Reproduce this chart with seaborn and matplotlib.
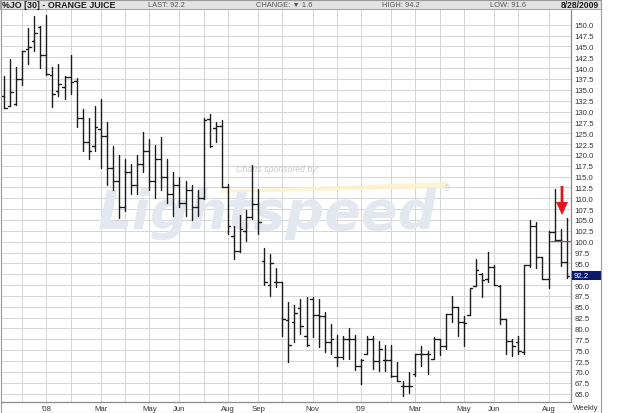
import numpy as np
import pandas as pd
import matplotlib
matplotlib.use("Agg")
import matplotlib.pyplot as plt
import seaborn as sns
from matplotlib.patches import Rectangle, Polygon

# ---------------- data (weekly OHLC, %JO orange juice) ----------------
opens = [133.6, 131.3, 131.7, 137.5, 144.5, 146.2, 149.4, 143.0, 138.5, 134.7,
         135.6, 137.9, 137.0, 128.5, 123.0, 122.0, 126.0, 124.4, 117.0, 114.0,
         108.0, 116.0, 113.0, 118.0, 121.0, 114.0, 119.0, 115.0, 111.0, 113.0,
         109.0, 112.0, 108.0, 110.0, 128.3, 126.1, 126.6, 112.5, 101.4, 97.9,
         102.5, 105.6, 108.7, 95.6, 90.0, 90.6, 90.6, 82.0, 81.4, 84.7,
         78.3, 86.8, 83.1, 82.9, 77.0, 73.5, 73.4, 77.6, 77.6, 71.4,
         74.1, 77.6, 72.5, 72.8, 72.8, 69.0, 66.8, 66.8, 69.5, 74.1,
         74.1, 73.0, 77.6, 76.0, 83.3, 84.9, 81.4, 83.1, 89.8, 92.6,
         91.4, 94.1, 89.8, 82.2, 77.2, 76.8, 74.5, 94.6, 103.7, 96.4,
         91.4, 102.2, 100.5, 95.3]
highs = [138.1, 142.1, 140.2, 144.0, 149.2, 151.9, 149.6, 152.2, 140.2, 141.0,
         138.1, 143.0, 137.8, 130.6, 128.4, 131.3, 132.9, 127.5, 122.0, 120.0,
         119.0, 118.0, 120.0, 125.2, 123.7, 122.3, 124.1, 119.0, 116.0, 115.0,
         114.0, 113.0, 112.0, 128.4, 129.4, 127.5, 128.1, 113.3, 103.7, 106.2,
         107.4, 117.6, 112.1, 98.5, 97.2, 93.9, 90.6, 86.0, 85.4, 86.8,
         87.3, 87.2, 86.8, 83.9, 81.0, 78.5, 78.3, 80.0, 78.5, 73.0,
         78.3, 78.3, 77.2, 76.2, 76.2, 72.2, 68.0, 69.9, 74.1, 76.0,
         74.9, 78.0, 77.6, 83.3, 87.6, 84.9, 82.8, 89.3, 96.0, 92.9,
         97.7, 94.6, 90.0, 82.2, 77.6, 78.3, 94.6, 104.9, 104.6, 96.4,
         102.5, 112.2, 102.9, 105.4]
lows = [130.7, 131.2, 131.5, 136.1, 140.9, 144.0, 140.0, 138.4, 131.0, 133.6,
        132.9, 134.0, 126.5, 121.0, 119.0, 121.0, 117.0, 113.0, 112.0, 105.5,
        107.0, 111.0, 111.0, 116.0, 112.0, 110.0, 112.0, 109.0, 106.0, 108.0,
        106.0, 105.0, 106.0, 109.8, 121.8, 122.9, 112.5, 101.8, 96.0, 97.6,
        100.2, 105.2, 101.8, 90.0, 87.6, 89.5, 78.3, 72.2, 76.8, 78.7,
        76.0, 78.0, 75.7, 74.5, 74.1, 71.3, 73.0, 73.0, 70.5, 67.2,
        74.1, 70.7, 70.3, 70.3, 68.8, 68.0, 64.5, 65.1, 69.1, 71.4,
        69.5, 73.0, 73.9, 75.3, 81.4, 78.3, 76.0, 83.1, 89.7, 87.2,
        90.6, 90.0, 81.0, 74.1, 73.7, 74.1, 74.1, 94.1, 93.9, 91.4,
        89.3, 100.2, 94.3, 91.6]
closes = [130.9, 134.6, 137.5, 144.0, 144.8, 148.2, 143.0, 138.6, 134.0, 136.3,
          137.9, 136.9, 128.5, 123.0, 121.0, 126.5, 124.4, 117.0, 114.0, 108.0,
          116.0, 113.0, 118.0, 121.0, 114.0, 119.0, 115.0, 111.0, 113.0, 109.0,
          112.0, 108.0, 110.0, 128.0, 122.0, 126.6, 112.5, 103.7, 97.9, 102.9,
          105.6, 108.7, 104.5, 90.6, 95.0, 90.6, 82.2, 76.2, 83.6, 80.5,
          76.2, 83.1, 82.9, 77.0, 77.6, 73.5, 77.6, 77.6, 71.4, 72.8,
          77.6, 72.4, 75.3, 72.8, 69.0, 68.0, 66.8, 66.8, 74.1, 74.1,
          74.1, 77.6, 76.0, 83.3, 84.9, 81.4, 81.3, 89.3, 93.5, 91.2,
          94.1, 90.0, 82.3, 77.2, 76.0, 74.9, 94.6, 103.7, 96.4, 91.4,
          102.2, 100.5, 95.3, 92.2]
last_date = "2009-08-28"
xtick_months = ["2008-01", "2008-03", "2008-05", "2008-06", "2008-08", "2008-09",
                "2008-11", "2009-01", "2009-03", "2009-05", "2009-06", "2009-08"]
xtick_labels = ["'08", "Mar", "May", "Jun", "Aug", "Sep",
                "Nov", "'09", "Mar", "May", "Jun", "Aug"]
y_ticks = np.arange(65.0, 150.01, 2.5)
title = "%JO [30] - ORANGE JUICE"
header_items = ["LAST: 92.2", "CHANGE: \u25BC 1.6", "HIGH: 94.2", "LOW: 91.6"]
date_label = "8/28/2009"
last_price = 92.2
marker_level = 100.2

# ---------------- figure ----------------
W, H = 625, 414
sns.set_style("white")
plt.rcParams["font.family"] = ["Liberation Sans", "DejaVu Sans"]

fig = plt.figure(figsize=(W / 100, H / 100), dpi=100)
fig.patch.set_facecolor("white")

def fx(x):
    return x / W

def fy(y):
    return 1 - y / H

PL, PR, PT, PB = 1, 571, 10, 403
ax = fig.add_axes([fx(PL), fy(PB), fx(PR - PL), (PB - PT) / H])

n = len(closes)
dates = pd.date_range(end=last_date, periods=n, freq="W-FRI")

tick = 0.42
rows = []
for i in range(n):
    rows += [(i, lows[i], f"h{i}"), (i, highs[i], f"h{i}")]
    rows += [(i - tick, opens[i], f"o{i}"), (i, opens[i], f"o{i}")]
    rows += [(i, closes[i], f"c{i}"), (i + tick, closes[i], f"c{i}")]
seg = pd.DataFrame(rows, columns=["x", "price", "seg"])

sns.lineplot(data=seg, x="x", y="price", units="seg", estimator=None, sort=False,
             color="#1c1c1c", lw=1.0, ax=ax, legend=False, zorder=3)

pxw = 6.05
xmin = -(4 - PL) / pxw
xmax = xmin + (PR - PL) / pxw
ax.set_xlim(xmin, xmax)
ax.set_ylim(63.06, 153.62)

# month gridlines at first bar of each month
months = dates.to_period("M")
month_starts = [i for i in range(n) if i == 0 or months[i] != months[i - 1]][1:]
ax.set_xticks(month_starts)
lab_map = {pd.Period(m, "M"): l for m, l in zip(xtick_months, xtick_labels)}
ax.set_xticklabels([lab_map.get(months[i], "") for i in month_starts])
ax.set_yticks(y_ticks)
ax.set_yticklabels([f"{v:.1f}" for v in y_ticks])
ax.yaxis.tick_right()
ax.tick_params(axis="both", length=0, labelsize=5.6, colors="#333333")
ax.tick_params(axis="y", pad=2.5)
ax.tick_params(axis="x", pad=2.2)
ax.grid(True, color="#d6d6d6", lw=0.75)
ax.set_axisbelow(True)
ax.set_xlabel("")
ax.set_ylabel("")
for s in ["left", "top"]:
    ax.spines[s].set_visible(False)
for s in ["right", "bottom"]:
    ax.spines[s].set_color("#8a8a8a")
    ax.spines[s].set_linewidth(0.9)

# watermark
ax.add_patch(Polygon([[fx(220), fy(191)], [fx(448), fy(183)], [fx(448), fy(189)], [fx(220), fy(194)]],
                     closed=True, transform=fig.transFigure, facecolor="#fcf2cc",
                     edgecolor="none", alpha=0.85, zorder=1))
ax.text(fx(278), fy(170), "Charts sponsored by:", transform=fig.transFigure, fontsize=6.3,
        style="italic", color="#c8c8c8", ha="center", va="center", zorder=1)
ax.text(fx(268), fy(229), "Lightspeed", transform=fig.transFigure, fontsize=39,
        fontweight="bold", style="italic", color="#e3e7ef", ha="center", va="baseline",
        zorder=1, family="DejaVu Sans")
ax.text(fx(447), fy(189), "\u00AE", transform=fig.transFigure, fontsize=6,
        color="#d6dbe5", ha="center", va="center", zorder=1, family="DejaVu Sans")

# red marker line and arrow
ax.hlines(marker_level, xmin=(550 - 4) / pxw, xmax=xmax, colors="#c8403c", lw=0.8, zorder=4)
fig.patches.append(Polygon([[fx(560.6), fy(187)], [fx(563.4), fy(187)], [fx(563.4), fy(203)],
                            [fx(568), fy(203)], [fx(562), fy(216)], [fx(556), fy(203)],
                            [fx(560.6), fy(203)]], closed=True, transform=fig.transFigure,
                           facecolor="#e3141b", edgecolor="none", zorder=5))

# header bar and frame
fig.patches.append(Rectangle((0, fy(PT)), fx(601), PT / H, transform=fig.transFigure,
                             facecolor="#e2e2e2", edgecolor="#a0a0a0", lw=0.7, zorder=0))
fig.patches.append(Rectangle((fx(0.5), fy(413.5)), fx(600.5), 413 / H, transform=fig.transFigure,
                             facecolor="none", edgecolor="#9a9a9a", lw=0.8, zorder=6))
yh = fy(5.2)
fig.text(fx(2), yh, title, fontsize=6.4, fontweight="bold", color="#1a1a1a", va="center", ha="left")
for txt, x in zip(header_items, [148, 256, 382, 490]):
    fig.text(fx(x), yh, txt, fontsize=5.4, color="#555555", va="center", ha="left",
             family=["Liberation Sans", "DejaVu Sans"])
fig.text(fx(599), yh, date_label, fontsize=6.2, fontweight="bold", color="#1a1a1a",
         va="center", ha="right")
fig.text(fx(586), fy(408.3), "Weekly", fontsize=5.6, color="#333333", va="center", ha="center")

# last price box
fig.canvas.draw()
ypix = ax.transData.transform((0, last_price))[1]
fig.patches.append(Rectangle((fx(PR + 0.5), (ypix - 4.5) / H), fx(30), 9 / H, transform=fig.transFigure,
                             facecolor="#0c1a6b", edgecolor="none", zorder=5))
fig.text(fx(574), ypix / H, f"{last_price:.1f}", fontsize=5.6, color="white", va="center",
         ha="left", zorder=7)

fig.savefig("out.png", dpi=100, facecolor="white")
